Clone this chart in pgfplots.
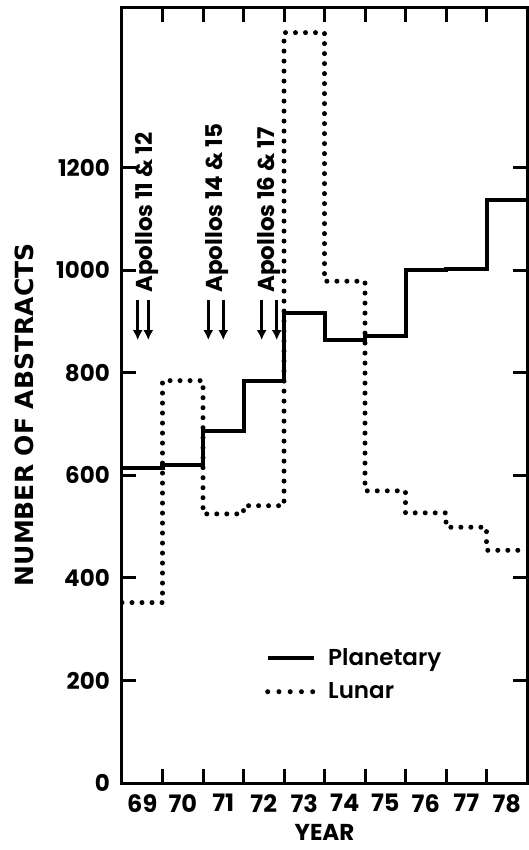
\documentclass[border=0pt]{standalone}
\usepackage{pgfplots}
\pgfplotsset{compat=1.18}
\usepackage{fontspec}
\setmainfont{Poppins}
\newfontfamily\popmed{Poppins SemiBold}
\newfontfamily\labfont{DejaVu Sans}
\usetikzlibrary{arrows.meta}
\begin{document}
\begin{tikzpicture}
\path[use as bounding box] (-122pt,-67pt) rectangle (406pt,783pt);
\begin{axis}[
  at={(0pt,0pt)}, anchor=south west,
  scale only axis, width=405pt, height=775pt,
  xmin=0, xmax=10, ymin=0, ymax=1512,
  axis line style={line width=3pt, black},
  tick style={line width=3pt, black},
  tick align=inside, xtick pos=both, ytick pos=both,
  major tick length=14pt,
  xtick={1,2,...,9}, xticklabels={},
  extra x ticks={0.5,1.5,...,9.5},
  extra x tick labels={\textbf{69},\textbf{70},\textbf{71},\textbf{72},\textbf{73},\textbf{74},\textbf{75},\textbf{76},\textbf{77},\textbf{78}},
  extra x tick style={major tick length=0pt},
  xticklabel style={inner sep=0pt, anchor=north, yshift=-11pt, font=\fontsize{24}{24}\selectfont},
  ytick={0,200,...,1200},
  yticklabels={\textbf{0},\textbf{200},\textbf{400},\textbf{600},\textbf{800},\textbf{1000},\textbf{1200}},
  yticklabel style={inner sep=0pt, anchor=east, xshift=-12pt, font=\fontsize{23}{23}\selectfont},
  xlabel={\textbf{YEAR}},
  xlabel style={at={(axis description cs:0.5,0)}, anchor=center, inner sep=0pt, yshift=-49pt, font=\fontsize{23}{23}\selectfont},
  ylabel={\labfont\bfseries NUMBER OF ABSTRACTS},
  ylabel style={at={(axis description cs:-0.242,0.475)}, anchor=center, inner sep=0pt, font=\fontsize{25}{25}\selectfont},
  legend image code/.code={\draw[#1] (0pt,0pt) -- (46pt,0pt);},
  legend cell align=left,
  legend style={at={(axis cs:3.531,263)}, anchor=north west, draw=none, fill=none,
    inner sep=0pt, row sep=16pt, column sep=12pt, nodes={inner sep=0pt},
    font=\popmed\fontsize{23}{23}\selectfont},
]
\addlegendimage{black, line width=4pt}
\addlegendentry{Planetary}
\addlegendimage{black, line width=5pt, line cap=round, dash pattern=on 0pt off 11.25pt}
\addlegendentry{Lunar}

% Planetary
\addplot[const plot, black, line width=4pt, forget plot] coordinates {
(0,615) (1,620) (2,686) (3,785) (4,917) (5,865) (6,873) (7,1000) (8,1003) (9,1137) (10,1137)};
% Lunar
\addplot[const plot, black, line width=5pt, line cap=round, dash pattern=on 0pt off 10pt, forget plot] coordinates {
(0,352) (1,785) (2,525) (3,541) (4,1464) (5,979) (6,570) (7,527) (8,499) (9,454) (10,454)};

% Apollo annotations
\foreach \xx in {0.388,0.649,2.131,2.501,3.449,3.820}{
  \edef\tmp{\noexpand\draw[line width=2.6pt, -{Latex[length=10pt,width=10pt]}] (axis cs:\xx,942) -- (axis cs:\xx,864);}\tmp
}
\node[rotate=90, anchor=west, inner sep=0pt, font=\bfseries\fontsize{23}{23}\selectfont] at (axis cs:0.617,956) {Apollos 11 \& 12};
\node[rotate=90, anchor=west, inner sep=0pt, font=\bfseries\fontsize{23}{23}\selectfont] at (axis cs:2.338,956) {Apollos 14 \& 15};
\node[rotate=90, anchor=west, inner sep=0pt, font=\bfseries\fontsize{23}{23}\selectfont] at (axis cs:3.630,956) {Apollos 16 \& 17};
\end{axis}
\end{tikzpicture}
\end{document}
